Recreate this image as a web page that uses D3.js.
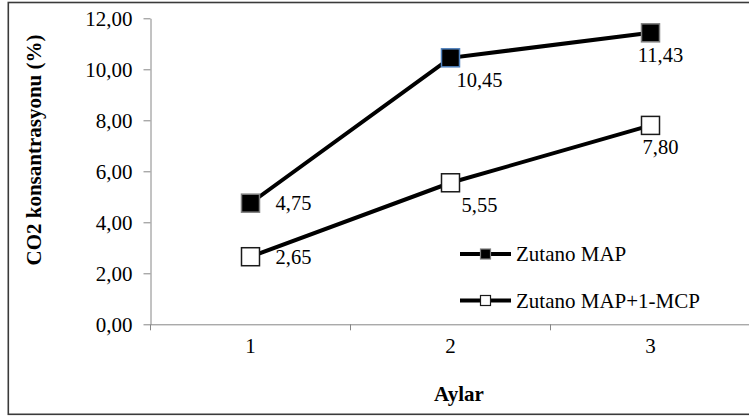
<html>
<head>
	<script src="https://d3js.org/d3.v7.min.js"></script>
	<style>
		body { margin: 0; background: #fff; }
		svg text { font-family: "Liberation Serif", "Times New Roman", serif; fill: #000; }
	</style>
</head>
<body>
	<script>
		// chart values
		var months = ["1", "2", "3"];
		var seriesNames = ["Zutano MAP", "Zutano MAP+1-MCP"];
		var mapValues = [4.75, 10.45, 11.43];
		var mcpValues = [2.65, 5.55, 7.80];
		var yTicks = [0, 2, 4, 6, 8, 10, 12];

		var width = 749, height = 419;
		var plotLeft = 150.5, plotRight = 750.5, plotTop = 18.3, plotBottom = 324.3;
		var serif = "Liberation Serif";

		var svg = d3.select("body").append("svg")
			.attr("width", width)
			.attr("height", height)
			.attr("font-family", serif);

		// outer frame (runs off the right edge)
		svg.append("rect")
			.attr("x", 8.3).attr("y", 2.5)
			.attr("width", 760).attr("height", 411.8)
			.attr("fill", "none")
			.attr("stroke", "#3a3a3a")
			.attr("stroke-width", 1.6);

		var locale = d3.formatLocale({ decimal: ",", thousands: ".", grouping: [3], currency: ["", ""] });
		var fmt = locale.format(".2f");

		var xScale = d3.scaleBand().domain(months).range([plotLeft, plotRight]).padding(0);
		var yScale = d3.scaleLinear().domain([0, 12]).range([plotBottom, plotTop]);

		// y axis
		var yAxisG = svg.append("g")
			.attr("transform", "translate(" + plotLeft + ",0)")
			.call(d3.axisLeft(yScale).tickValues(yTicks).tickFormat(fmt).tickSize(7).tickPadding(11).tickSizeOuter(0));
		yAxisG.attr("font-family", serif).attr("font-size", 21);
		yAxisG.select(".domain").attr("stroke", "#868686");
		yAxisG.selectAll(".tick line").attr("stroke", "#868686");
		yAxisG.selectAll(".tick text").attr("fill", "#000");

		// x axis
		var xAxisG = svg.append("g")
			.attr("transform", "translate(0," + plotBottom + ")")
			.call(d3.axisBottom(xScale).tickSize(0).tickPadding(14).tickSizeOuter(0));
		xAxisG.attr("font-family", serif).attr("font-size", 21);
		xAxisG.select(".domain").attr("stroke", "#868686");
		xAxisG.selectAll(".tick text").attr("fill", "#000");

		// category boundary ticks
		var bounds = months.map(function(m) { return xScale(m); }).concat([xScale(months[months.length - 1]) + xScale.step()]);
		xAxisG.selectAll(".bound").data(bounds)
			.enter().append("line")
			.attr("class", "bound")
			.attr("x1", function(d) { return d; })
			.attr("x2", function(d) { return d; })
			.attr("y1", 0).attr("y2", 6)
			.attr("stroke", "#868686");

		// axis titles
		svg.append("text")
			.attr("transform", "translate(40.5,150) rotate(-90)")
			.attr("text-anchor", "middle")
			.attr("font-size", 21)
			.attr("font-weight", "bold")
			.text("CO2 konsantrasyonu (%)");

		svg.append("text")
			.attr("x", 459).attr("y", 401)
			.attr("text-anchor", "middle")
			.attr("font-size", 21)
			.attr("font-weight", "bold")
			.text("Aylar");

		var series = [
			{ name: seriesNames[0], values: mapValues, fill: "#000", stroke: "#7f7f7f" },
			{ name: seriesNames[1], values: mcpValues, fill: "#fff", stroke: "#1a1a1a" }
		];

		var cx = function(i) { return xScale(months[i]) + xScale.bandwidth() / 2; };

		var line = d3.line()
			.x(function(d, i) { return cx(i); })
			.y(function(d) { return yScale(d); });

		series.forEach(function(s) {
			svg.append("path")
				.datum(s.values)
				.attr("d", line)
				.attr("fill", "none")
				.attr("stroke", "#000")
				.attr("stroke-width", 4);

			svg.selectAll(null).data(s.values)
				.enter().append("rect")
				.attr("x", function(d, i) { return cx(i) - 9; })
				.attr("y", function(d) { return yScale(d) - 9; })
				.attr("width", 18).attr("height", 18)
				.attr("fill", s.fill)
				.attr("stroke", function(d, i) { return (s.fill === "#000" && i === 1) ? "#4f81bd" : s.stroke; })
				.attr("stroke-width", 1.5);

			// data labels: first month to the right, the rest below
			svg.selectAll(null).data(s.values)
				.enter().append("text")
				.attr("x", function(d, i) { return i === 0 ? cx(i) + 25 : cx(i) + (i === 1 ? 29 : 10); })
				.attr("y", function(d, i) { return i === 0 ? yScale(d) + 7 : yScale(d) + 29; })
				.attr("text-anchor", function(d, i) { return i === 0 ? "start" : "middle"; })
				.attr("font-size", 20.5)
				.text(function(d) { return fmt(d); });
		});

		// legend
		var legend = svg.selectAll(".legend").data(series)
			.enter().append("g")
			.attr("class", "legend")
			.attr("transform", function(d, i) { return "translate(460," + (254 + i * 46.5) + ")"; });
		legend.append("line")
			.attr("x1", 0).attr("x2", 51)
			.attr("stroke", "#000").attr("stroke-width", 4);
		legend.append("rect")
			.attr("x", 20.5).attr("y", -5)
			.attr("width", 10).attr("height", 10)
			.attr("fill", function(d) { return d.fill; })
			.attr("stroke", function(d) { return d.stroke; })
			.attr("stroke-width", 1.2);
		legend.append("text")
			.attr("x", 56).attr("y", 7)
			.attr("font-size", 21)
			.text(function(d) { return d.name; });
	</script>
</body>
</html>
